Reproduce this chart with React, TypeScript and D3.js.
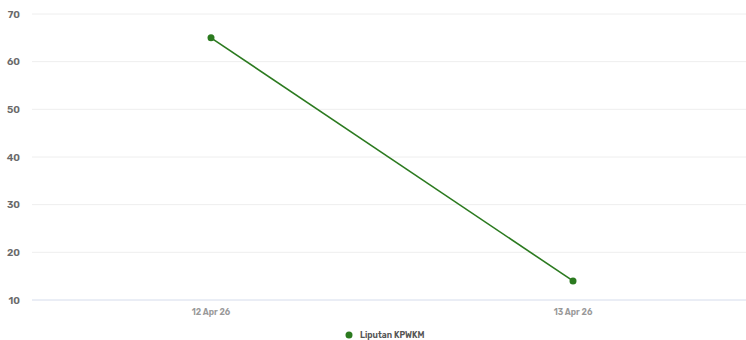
import React from "react";
import * as d3 from "d3";

const categories = ["12 Apr 26", "13 Apr 26"];
const seriesName = "Liputan KPWKM";
const values = [65, 14];
const yTicks = [10, 20, 30, 40, 50, 60, 70];

export default function App() {
  const W = 746, H = 340;
  const left = 30, right = 754, top = 14, bottom = 300;
  const x = d3.scaleBand<string>().domain(categories).range([left, right]);
  const y = d3.scaleLinear().domain([10, 70]).range([bottom, top]);
  const color = "#2b7a1f";
  const line = d3.line<number>()
    .x((_, i) => (x(categories[i]) as number) + x.bandwidth() / 2)
    .y((d) => y(d));
  const font = "Rubik, Inter, 'Open Sans', sans-serif";
  return (
    <svg width={W} height={H} style={{ position: "absolute", left: 0, top: 0 }}>
      {yTicks.map((t) => (
        <g key={t}>
          <line x1={32} x2={W} y1={y(t)} y2={y(t)} stroke={t === 10 ? "#d5dcec" : "#eeeeee"} strokeWidth={1} />
          <text x={20} y={y(t)} dy="0.35em" textAnchor="end" fontFamily={font} fontSize={10} fontWeight={600} fill="#6a6a6a">{t}</text>
        </g>
      ))}
      {categories.map((c) => (
        <text key={c} x={(x(c) as number) + x.bandwidth() / 2} y={312} dy="0.35em" textAnchor="middle" fontFamily={font} fontSize={8.5} fontWeight={600} fill="#999">{c}</text>
      ))}
      <path d={line(values) || ""} fill="none" stroke={color} strokeWidth={1.6} />
      {values.map((v, i) => (
        <circle key={i} cx={(x(categories[i]) as number) + x.bandwidth() / 2} cy={y(v)} r={3.5} fill={color} />
      ))}
      <circle cx={349} cy={335} r={3.5} fill={color} />
      <text x={360} y={335} dy="0.35em" fontFamily={font} fontSize={8.5} fontWeight={600} fill="#555">{seriesName}</text>
    </svg>
  );
}
